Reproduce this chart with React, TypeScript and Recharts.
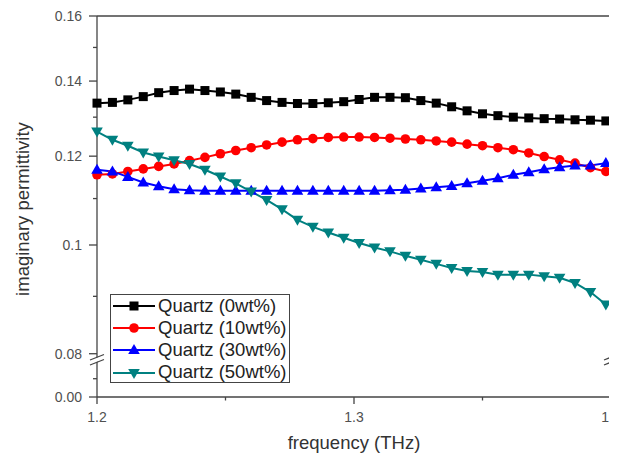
import React from 'react'
import { LineChart, Line, XAxis, YAxis, Legend, ReferenceLine, ReferenceDot, Label } from 'recharts'

const frequency = [
  1.2, 1.206, 1.212, 1.218, 1.224, 1.23, 1.236, 1.242, 1.248, 1.254, 1.26, 1.266,
  1.272, 1.278, 1.284, 1.29, 1.296, 1.302, 1.308, 1.314, 1.32, 1.326, 1.332, 1.338,
  1.344, 1.35, 1.356, 1.362, 1.368, 1.374, 1.38, 1.386, 1.392, 1.398,
]

const quartz0 = [
  0.1338, 0.134, 0.1347, 0.1356, 0.1367, 0.1373, 0.1377, 0.1373, 0.1369, 0.1363, 0.1354, 0.1345,
  0.134, 0.1337, 0.1337, 0.1339, 0.1342, 0.1348, 0.1354, 0.1354, 0.1353, 0.1345, 0.1338, 0.1328,
  0.1317, 0.1309, 0.1304, 0.13, 0.1298, 0.1296, 0.1295, 0.1293, 0.1292, 0.129,
]

const quartz10 = [
  0.1155, 0.1157, 0.1163, 0.1169, 0.1175, 0.1181, 0.1189, 0.1197, 0.1206, 0.1214, 0.1221, 0.1228,
  0.1235, 0.1241, 0.1244, 0.1247, 0.1248, 0.1248, 0.1247, 0.1245, 0.1243, 0.1241, 0.1238, 0.1235,
  0.123, 0.1226, 0.1221, 0.1216, 0.1208, 0.1199, 0.1191, 0.1183, 0.1172, 0.1163,
]

const quartz30 = [
  0.1167, 0.1163, 0.115, 0.1137, 0.1128, 0.1121, 0.1119, 0.1118, 0.1118, 0.1118, 0.1118, 0.1118,
  0.1118, 0.1118, 0.1118, 0.1118, 0.1118, 0.1118, 0.1118, 0.1119, 0.112, 0.1123, 0.1126, 0.1129,
  0.1135, 0.1141, 0.1147, 0.1155, 0.1161, 0.1168, 0.1173, 0.1177, 0.1177, 0.1183,
]

const quartz50 = [
  0.1262, 0.1241, 0.1226, 0.1209, 0.1199, 0.119, 0.1181, 0.1167, 0.1151, 0.1135, 0.1116, 0.1097,
  0.1076, 0.1053, 0.1038, 0.1026, 0.1015, 0.1004, 0.0995, 0.0987, 0.0978, 0.097, 0.0962, 0.0954,
  0.0948, 0.0946, 0.0941, 0.0941, 0.0941, 0.0938, 0.0935, 0.0925, 0.0908, 0.0885,
]

const xTicks = [1.2, 1.25, 1.3, 1.35, 1.4]
const xLabels: Record<string, string> = { '1.2': '1.2', '1.3': '1.3', '1.4': '1.4' }

// log axis, broken below 0.08; the bottom end of the axis is drawn as "0.00"
const yFloor = 0.0732
const yBreak = 0.0789
const yTicks = [yFloor, 0.076, 0.08, 0.09, 0.1, 0.11, 0.12, 0.13, 0.14, 0.15, 0.16]
const yLabels: Record<string, string> = {
  [String(yFloor)]: '0.00', '0.08': '0.08', '0.1': '0.1', '0.12': '0.12', '0.14': '0.14', '0.16': '0.16',
}

const series = [
  { key: 'q0', name: 'Quartz (0wt%)', color: '#000000', marker: 'square' },
  { key: 'q10', name: 'Quartz (10wt%)', color: '#ff0000', marker: 'circle' },
  { key: 'q30', name: 'Quartz (30wt%)', color: '#0000ff', marker: 'up' },
  { key: 'q50', name: 'Quartz (50wt%)', color: '#008080', marker: 'down' },
]

const data = frequency.map((f, i) => ({
  f,
  q0: quartz0[i],
  q10: quartz10[i],
  q30: quartz30[i],
  q50: quartz50[i],
}))

const FONT = '"Liberation Sans", Arial, sans-serif'
const AXIS = '#444'

function Marker({ cx, cy, shape, color }: { cx: number; cy: number; shape: string; color: string }) {
  if (shape === 'square') return <rect x={cx - 4.5} y={cy - 4.5} width={9} height={9} fill={color} />
  if (shape === 'circle') return <circle cx={cx} cy={cy} r={4.8} fill={color} />
  if (shape === 'up')
    return <polygon points={`${cx},${cy - 6} ${cx + 5.8},${cy + 4} ${cx - 5.8},${cy + 4}`} fill={color} />
  return <polygon points={`${cx},${cy + 6} ${cx + 5.8},${cy - 4} ${cx - 5.8},${cy - 4}`} fill={color} />
}

const XTick = (props: any) => {
  const { x, y, payload } = props
  const label = xLabels[String(payload.value)]
  return (
    <g>
      <line x1={x} x2={x} y1={y} y2={y + (label ? 7 : 3.5)} stroke={AXIS} strokeWidth={1.3} />
      {label && (
        <text x={x} y={y + 25} textAnchor="middle" fontSize={14} fill="#505050" fontFamily={FONT}>
          {label}
        </text>
      )}
    </g>
  )
}

const YTick = (props: any) => {
  const { x, y, payload } = props
  const label = yLabels[String(payload.value)]
  return (
    <g>
      <line x1={x - (label ? 8 : 4)} x2={x} y1={y} y2={y} stroke={AXIS} strokeWidth={1.3} />
      {label && (
        <text x={x - 15} y={y + 5} textAnchor="end" fontSize={14} fill="#505050" fontFamily={FONT}>
          {label}
        </text>
      )}
    </g>
  )
}

const BreakMark = (props: any) => {
  const { cx, cy } = props
  return (
    <g>
      <polygon
        points={`${cx - 7},${cy + 4} ${cx + 7},${cy - 1.5} ${cx + 7},${cy - 5.5} ${cx - 7},${cy}`}
        fill="#fff"
      />
      <line x1={cx - 7} y1={cy + 4.5} x2={cx + 7} y2={cy - 1} stroke={AXIS} strokeWidth={1.2} />
      <line x1={cx - 7} y1={cy - 0.5} x2={cx + 7} y2={cy - 6} stroke={AXIS} strokeWidth={1.2} />
    </g>
  )
}

const LegendBox = (props: any) => {
  const payload = props.payload || []
  return (
    <div style={{ border: `1.3px solid ${AXIS}`, background: '#fff', width: 180, height: 89, boxSizing: 'border-box' }}>
      {payload.map((p: any) => {
        const s = series.find((d) => d.key === p.dataKey) || series[0]
        return (
          <div key={s.key} style={{ display: 'flex', alignItems: 'center', height: 22.2 }}>
            <svg width={47} height={16} style={{ flex: 'none' }}>
              <line x1={2} x2={44} y1={8} y2={8} stroke={s.color} strokeWidth={2} />
              <Marker cx={23} cy={8} shape={s.marker} color={s.color} />
            </svg>
            <span style={{ fontFamily: FONT, fontSize: 18.5, color: '#222', whiteSpace: 'nowrap', lineHeight: 1 }}>
              {s.name}
            </span>
          </div>
        )
      })}
    </div>
  )
}

export default function App() {
  return (
    <div style={{ fontFamily: FONT }}>
      <LineChart width={609} height={451} data={data} margin={{ top: 8, right: 6, left: 29, bottom: 32 }}>
        <XAxis
          dataKey="f"
          type="number"
          domain={[1.2, 1.4]}
          ticks={xTicks}
          interval={0}
          height={30}
          tickSize={0}
          tickMargin={0}
          tickLine={false}
          tick={<XTick />}
          axisLine={{ stroke: AXIS, strokeWidth: 1.3 }}
        >
          <Label
            content={() => (
              <text x={346} y={441} textAnchor="middle" fontSize={18.5} fill="#333" fontFamily={FONT}>
                frequency (THz)
              </text>
            )}
          />
        </XAxis>
        <YAxis
          type="number"
          scale="log"
          domain={[yFloor, 0.16]}
          ticks={yTicks}
          interval={0}
          width={60}
          allowDataOverflow
          tickSize={0}
          tickMargin={0}
          tickLine={false}
          tick={<YTick />}
          axisLine={{ stroke: AXIS, strokeWidth: 1.3 }}
        >
          <Label
            content={() => (
              <text
                x={14}
                y={201}
                transform="rotate(-90, 14, 201)"
                textAnchor="middle"
                dominantBaseline="central"
                fontSize={18.5}
                fill="#333"
                fontFamily={FONT}
              >
                imaginary permittivity
              </text>
            )}
          />
        </YAxis>
        <ReferenceLine y={0.16} stroke={AXIS} strokeWidth={1.3} />
        <ReferenceLine x={1.4} stroke={AXIS} strokeWidth={1.3} />
        {series.map((s) => (
          <Line
            key={s.key}
            dataKey={s.key}
            name={s.name}
            type="linear"
            stroke={s.color}
            strokeWidth={2}
            isAnimationActive={false}
            dot={(p: any) => (
              <Marker key={`${s.key}-${p.index}`} cx={p.cx} cy={p.cy} shape={s.marker} color={s.color} />
            )}
            activeDot={false}
          />
        ))}
        <ReferenceDot x={1.2} y={yBreak} ifOverflow="visible" shape={<BreakMark />} />
        <ReferenceDot x={1.4} y={yBreak} ifOverflow="visible" shape={<BreakMark />} />
        <Legend
          layout="vertical"
          align="center"
          verticalAlign="middle"
          content={<LegendBox />}
          wrapperStyle={{ left: 102, top: 286, width: 180, height: 89 }}
        />
      </LineChart>
    </div>
  )
}
